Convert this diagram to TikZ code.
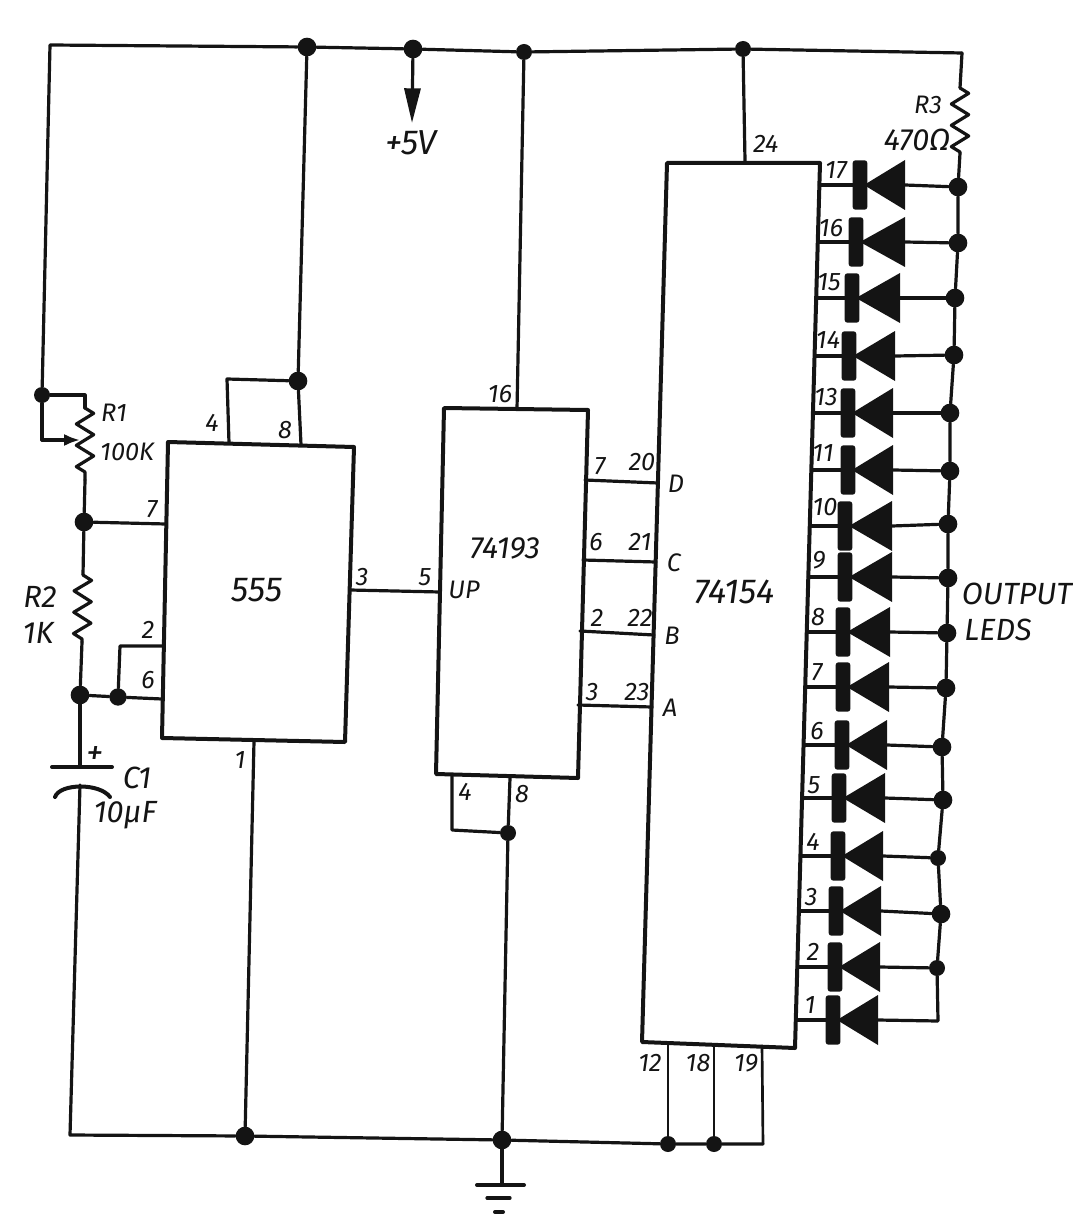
\documentclass[tikz,border=0pt]{standalone}
\usepackage{fontspec}
\setmainfont{Fira Sans}
\usetikzlibrary{
  arrows.meta,
  decorations.pathmorphing,
}
\definecolor{ink}{HTML}{141414}
\tikzset{
  >={Triangle[width=12pt,length=26pt]},
  wire/.style={draw=ink, line width=2.4pt, line cap=round, line join=round},
  thinwire/.style={draw=ink, line width=2pt, line cap=round, line join=round},
  chip/.style={draw=ink, line width=3pt, line join=round},
  dot/.style={circle, fill=ink, inner sep=0pt, minimum size=14pt},
  smalldot/.style={circle, fill=ink, inner sep=0pt, minimum size=12pt},
  nodot/.style={inner sep=0pt, minimum size=0pt},
  zigzagres/.style={decorate, decoration={zigzag, amplitude=6.5pt, segment length=16pt}},
  pinlabel/.style={text=ink, inner sep=0pt, font=\itshape\fontsize{19}{21}\selectfont},
  textlabel/.style={text=ink, inner sep=0pt, font=\itshape\fontsize{23}{25}\selectfont},
  chiplabel/.style={text=ink, inner sep=0pt, font=\itshape\fontsize{26}{28}\selectfont},
  ledbar/.style={fill=ink, rounded corners=2pt, inner sep=0pt, minimum width=11pt, minimum height=37pt},
}
\begin{document}
\begin{tikzpicture}[x=0.75pt, y=-0.75pt]
  \useasboundingbox (0,0) rectangle (1072,1219);

  % chips
  \coordinate (a1) at (168,442); \coordinate (a2) at (354,447);
  \coordinate (a3) at (345,742); \coordinate (a4) at (162,738);
  \coordinate (b1) at (444,408); \coordinate (b2) at (588,410);
  \coordinate (b3) at (578,778); \coordinate (b4) at (436,774);
  \coordinate (c1) at (667,163); \coordinate (c2) at (820,163);
  \coordinate (c3) at (795,1048); \coordinate (c4) at (642,1042);
  \draw[chip] (a1) -- (a2) -- (a3) -- (a4) -- cycle;
  \draw[chip] (b1) -- (b2) -- (b3) -- (b4) -- cycle;
  \draw[chip] (c1) -- (c2) -- (c3) -- (c4) -- cycle;
  \node[chiplabel] (t555) at (257,590) {555};
  \node[textlabel] (t74193) at (505,548) {74193};
  \node[chiplabel] (t74154) at (735,592) {74154};

  % junctions
  \node[dot] (top1) at (307,47) {};
  \node[dot] (top2) at (413,49) {};
  \node[smalldot] (top3) at (524,52) {};
  \node[dot, minimum size=12pt] (top4) at (743,49) {};
  \node[dot, minimum size=12pt] (r1in) at (42,395) {};
  \node[dot] (vcc555) at (298,381) {};
  \node[dot] (n7) at (84,522) {};
  \node[dot] (n6) at (80,695) {};
  \node[dot, minimum size=13pt] (n2) at (118,697) {};
  \node[dot] (gnd1) at (245,1136) {};
  \node[dot] (gnd2) at (502,1140) {};
  \node[smalldot] (gnd3) at (668,1144) {};
  \node[smalldot] (gnd4) at (714,1144) {};
  \node[smalldot] (gnd193) at (508,833) {};

  % supply rail and +5V
  \coordinate (railleft) at (50,45);
  \coordinate (railright) at (962,53);
  \coordinate (plus5) at (412,123);
  \draw[wire] (r1in) -- (railleft) -- (top1) -- (top2) -- (top3) -- (top4) -- (railright);
  \draw[wire, ->] (top2) -- (plus5);
  \node[chiplabel] (v5) at (411,143) {+5V};

  % R1
  \coordinate (r1a) at (85,395);
  \coordinate (r1b) at (85,408);
  \coordinate (r1c) at (85,480);
  \coordinate (r1w) at (42,440);
  \coordinate (r1tip) at (80,440);
  \draw[wire] (r1in) -- (r1a) -- (r1b);
  \draw[wire, zigzagres] (r1b) -- (r1c);
  \draw[wire] (r1c) -- (n7);
  \draw[wire] (r1in) -- (r1w);
  \draw[wire, -{Latex[width=3.2mm,length=4.2mm]}] (r1w) -- (r1tip);
  \node[pinlabel] (lr1) at (114,413) {R1};
  \node[pinlabel] (l100k) at (127,452) {100K};

  % R2 and C1
  \coordinate (r2a) at (83,575);
  \coordinate (r2b) at (82,642);
  \coordinate (capin) at (80,767);
  \coordinate (capl) at (52,767);
  \coordinate (capr) at (112,767);
  \coordinate (capa) at (55,797);
  \coordinate (capm) at (80,785);
  \coordinate (capb) at (110,797);
  \coordinate (gndleft) at (70,1135);
  \draw[wire] (n7) -- (r2a);
  \draw[wire, zigzagres] (r2a) -- (r2b);
  \draw[wire] (r2b) -- (n6);
  \draw[wire] (n6) -- (capin);
  \draw[wire, line width=3pt] (capl) -- (capr);
  \draw[wire, line width=3pt] (capa) .. controls (60,783) and (100,783) .. (capb);
  \draw[wire] (capm) -- (gndleft) -- (gnd1);
  \node[textlabel] (lr2) at (40,597) {R2};
  \node[textlabel] (l1k) at (38,633) {1K};
  \node[chiplabel] (lplus) at (95,755) {+};
  \node[textlabel] (lc1) at (137,778) {C1};
  \node[textlabel] (l10u) at (125,815) {10µF};

  % 555 pins
  \coordinate (p7) at (166,524);
  \coordinate (p6) at (162,699);
  \coordinate (p2) at (164,646);
  \coordinate (p2c) at (120,646);
  \coordinate (p4) at (229,443);
  \coordinate (p4c) at (227,379);
  \coordinate (p8) at (301,445);
  \coordinate (p1) at (254,741);
  \coordinate (p3) at (350,590);
  \coordinate (up) at (440,592);
  \draw[wire] (n7) -- (p7);
  \draw[wire] (n6) -- (n2) -- (p6);
  \draw[wire] (n2) -- (p2c) -- (p2);
  \draw[wire] (p4) -- (p4c) -- (vcc555);
  \draw[wire] (p8) -- (vcc555) -- (top1);
  \draw[wire] (p1) -- (gnd1);
  \draw[wire] (p3) -- (up);
  \node[pinlabel] (l7) at (152,509) {7};
  \node[pinlabel] (l2) at (148,630) {2};
  \node[pinlabel] (l6) at (148,680) {6};
  \node[pinlabel] (l4) at (212,423) {4};
  \node[pinlabel] (l8) at (285,430) {8};
  \node[pinlabel] (l1) at (240,760) {1};
  \node[pinlabel] (l3) at (362,577) {3};
  \node[pinlabel] (l5) at (425,577) {5};
  \node[pinlabel] (lup) at (464,590) {UP};

  % 74193 pins
  \coordinate (q16) at (517,409);
  \coordinate (q4) at (452,776);
  \coordinate (q4c) at (452,830);
  \coordinate (q8) at (510,778);
  \draw[wire] (top3) -- (q16);
  \draw[wire] (q4) -- (q4c) -- (gnd193);
  \draw[wire] (q8) -- (gnd193) -- (gnd2);
  \node[pinlabel] (l16) at (500,394) {16};
  \node[pinlabel] (l4b) at (465,792) {4};
  \node[pinlabel] (l8b) at (522,794) {8};

  % counter to decoder
  \foreach \from/\fy/\to/\ty/\la/\lax/\lay/\lb/\lbx/\lby/\inp in {
    585/480/658/483/7/600/466/20/642/462/D,
    583/560/656/562/6/596/542/21/640/542/C,
    580/631/654/635/2/597/618/22/640/618/B,
    578/705/652/707/3/592/692/23/637/692/A}{
    \coordinate (out\inp) at (\from,\fy);
    \coordinate (in\inp) at (\to,\ty);
    \draw[wire] (out\inp) -- (in\inp);
    \node[pinlabel] (lo\inp) at (\lax,\lay) {\la};
    \node[pinlabel] (li\inp) at (\lbx,\lby) {\lb};
    \node[pinlabel] (t\inp) at (\to+18,\ty+1) {\inp};
  }

  % 74154 pins
  \coordinate (s24) at (745,161);
  \coordinate (s12) at (668,1044);
  \coordinate (s18) at (714,1045);
  \coordinate (s19) at (762,1046);
  \coordinate (s19c) at (763,1144);
  \draw[wire] (top4) -- (s24);
  \draw[thinwire] (s12) -- (gnd3);
  \draw[thinwire] (s18) -- (gnd4);
  \draw[thinwire] (s19) -- (s19c);
  \draw[wire] (gnd1) -- (gnd2) -- (gnd3) -- (gnd4) -- (s19c);
  \node[pinlabel] (l24) at (766,144) {24};
  \node[pinlabel] (l12) at (650,1063) {12};
  \node[pinlabel] (l18) at (698,1063) {18};
  \node[pinlabel] (l19) at (746,1063) {19};

  % ground
  \coordinate (g0) at (502,1185);
  \coordinate (g1) at (477,1185); \coordinate (g2) at (524,1185);
  \coordinate (g3) at (487,1198); \coordinate (g4) at (510,1198);
  \coordinate (g5) at (495,1212); \coordinate (g6) at (503,1212);
  \draw[wire] (gnd2) -- (g0);
  \draw[wire, line width=3pt] (g1) -- (g2);
  \draw[wire] (g3) -- (g4);
  \draw[wire, line width=3pt] (g5) -- (g6);

  % R3
  \coordinate (r3a) at (960,88);
  \coordinate (r3b) at (960,153);
  \draw[wire] (railright) -- (r3a);
  \draw[wire, zigzagres] (r3a) -- (r3b);
  \node[pinlabel] (lr3) at (928,105) {R3};
  \node[textlabel] (l470) at (917,140) {470Ω};

  % LEDs
  \foreach \n/\ly/\bx/\tb/\dx/\dy/\lx/\lyy/\st in {
    17/185/860/905/958/187/836/170/dot,
    16/242/856/905/958/243/831/228/dot,
    15/298/852/900/955/298/829/282/dot,
    14/356/849/895/954/355/828/340/dot,
    13/413/848/893/950/413/826/397/dot,
    11/470/848/893/950/471/823/453/dot,
    10/526/845/892/948/524/825/507/dot,
    9/577/845/892/948/578/819/560/dot,
    8/632/843/890/947/633/818/617/dot,
    7/687/843/889/946/688/817/672/dot,
    6/745/842/887/942/747/817/731/dot,
    5/798/839/885/943/800/814/785/dot,
    4/856/838/883/938/858/813/842/smalldot,
    3/911/836/881/941/914/811/897/dot,
    2/967/835/880/937/968/813/952/smalldot,
    1/1020/833/878/938/1021/810/1005/nodot}{
    \pgfmathsetmacro\ex{820-(\ly-163)*0.0282}
    \coordinate (pin\n) at (\ex,\ly);
    \node[\st] (rail\n) at (\dx,\dy) {};
    \node[ledbar] (bar\n) at (\bx,\ly) {};
    \coordinate (base\n) at (\tb,\ly);
    \draw[wire] (pin\n) -- (bar\n);
    \draw[wire] (base\n) -- (rail\n);
    \fill[ink] (\bx+4,\ly) -- (\tb,\ly-25) -- (\tb,\ly+25) -- cycle;
    \node[pinlabel] (lled\n) at (\lx,\lyy) {\n};
  }
  \draw[wire] (r3b) -- (rail17) -- (rail16) -- (rail15) -- (rail14) -- (rail13)
    -- (rail11) -- (rail10) -- (rail9) -- (rail8) -- (rail7) -- (rail6) -- (rail5)
    -- (rail4) -- (rail3) -- (rail2) -- (rail1);
  \node[textlabel] (lout) at (1017,594) {OUTPUT};
  \node[textlabel] (lleds) at (998,630) {LEDS};
\end{tikzpicture}
\end{document}
